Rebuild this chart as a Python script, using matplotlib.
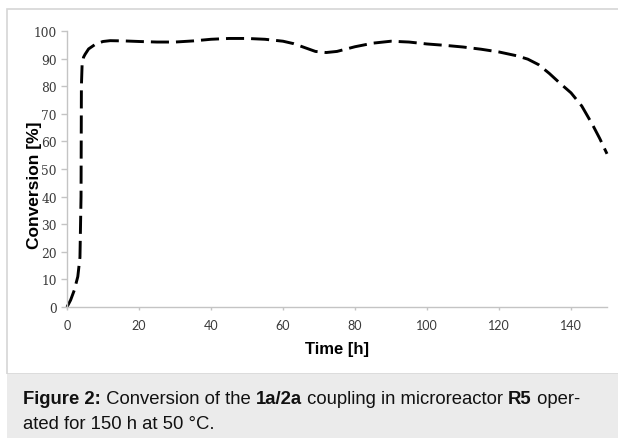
import matplotlib
matplotlib.use("Agg")
import matplotlib.pyplot as plt
from matplotlib.patches import Rectangle

# conversion data
time_h = [0, 1, 2, 3, 3.6, 3.9, 4.0, 4.2, 4.6, 5, 6, 8, 10, 12, 16, 20, 25, 30,
          35, 40, 45, 50, 55, 60, 63, 66, 69, 72, 75, 80, 85, 90, 95, 100, 105,
          110, 115, 120, 125, 128, 131, 134, 137, 140, 143, 146, 148, 150]
conversion = [0, 2.5, 6, 11, 18, 40, 80, 88, 90.5, 91.5, 93.5, 95.3, 96.2, 96.5,
              96.4, 96.2, 96.0, 96.0, 96.4, 97.0, 97.3, 97.3, 97.0, 96.3, 95.4,
              94.0, 92.6, 92.2, 92.6, 94.3, 95.6, 96.3, 96.0, 95.3, 94.8, 94.2,
              93.4, 92.4, 91.0, 89.8, 87.8, 84.6, 81.0, 77.6, 72.8, 66, 61, 55.5]
xticks = [0, 20, 40, 60, 80, 100, 120, 140]
yticks = [0, 10, 20, 30, 40, 50, 60, 70, 80, 90, 100]

W, H = 618, 439
fig = plt.figure(figsize=(W / 100, H / 100), dpi=100)

# outer frame and caption box
fig.patches.append(Rectangle((7 / W, 1 - 375 / H), 1.2, 365 / H, transform=fig.transFigure,
                             facecolor="none", edgecolor="#d6d6d6", lw=1.2, zorder=-2))
fig.patches.append(Rectangle((7 / W, -0.01), 1.2, 1 - 375 / H + 0.011, transform=fig.transFigure,
                             facecolor="#ebebeb", edgecolor="none", zorder=-1))

ax = fig.add_axes([67 / W, 1 - 308 / H, 540 / W, 276 / H])
ax.patch.set_alpha(0)
ax.plot(time_h, conversion, color="black", lw=2.1, ls=(0, (6.2, 2.4)),
        dash_capstyle="butt", solid_joinstyle="round", clip_on=False)
ax.set_xlim(0, 150)
ax.set_ylim(0, 100)
ax.set_xticks(xticks)
ax.set_yticks(yticks)
ax.set_xticklabels([str(v) for v in xticks], fontfamily="Lato", fontsize=9, color="#3a3a3a")
ax.set_yticklabels([str(v) for v in yticks], fontfamily="DejaVu Serif", fontsize=8.8, color="#3a3a3a")
for s in ["top", "right"]:
    ax.spines[s].set_visible(False)
for s in ["left", "bottom"]:
    ax.spines[s].set_color("#c4c4c4")
    ax.spines[s].set_linewidth(1.0)
ax.tick_params(axis="both", colors="#c4c4c4", labelcolor="#3a3a3a", width=1)
ax.tick_params(axis="x", length=2.5, pad=6)
ax.tick_params(axis="y", length=4.3, pad=3)
ax.set_xlabel("Time [h]", fontfamily="Liberation Sans", fontweight="bold", fontsize=12, labelpad=7)
ax.set_ylabel("Conversion [%]", fontfamily="Liberation Sans", fontweight="bold", fontsize=12.5)
ax.yaxis.set_label_coords(-0.046, 0.446)

# caption with mixed bold / normal pieces
renderer = fig.canvas.get_renderer()
lines = [
    [("Figure 2:", "bold"), (" Conversion of the ", "normal"), ("1a/2a", "bold"),
     (" coupling in microreactor ", "normal"), ("R5", "bold"), (" oper-", "normal")],
    [("ated for 150 h at 50 \u00b0C.", "normal")],
]
line_y = [400, 425]
for parts, yp in zip(lines, line_y):
    x = 23
    for txt, weight in parts:
        t = fig.text(x / W, 1 - yp / H, txt, fontfamily="Liberation Sans", fontweight=weight,
                     fontsize=13.3, va="center", ha="left", color="#111111", zorder=3)
        x += t.get_window_extent(renderer).width

fig.savefig("out.png", dpi=100)
